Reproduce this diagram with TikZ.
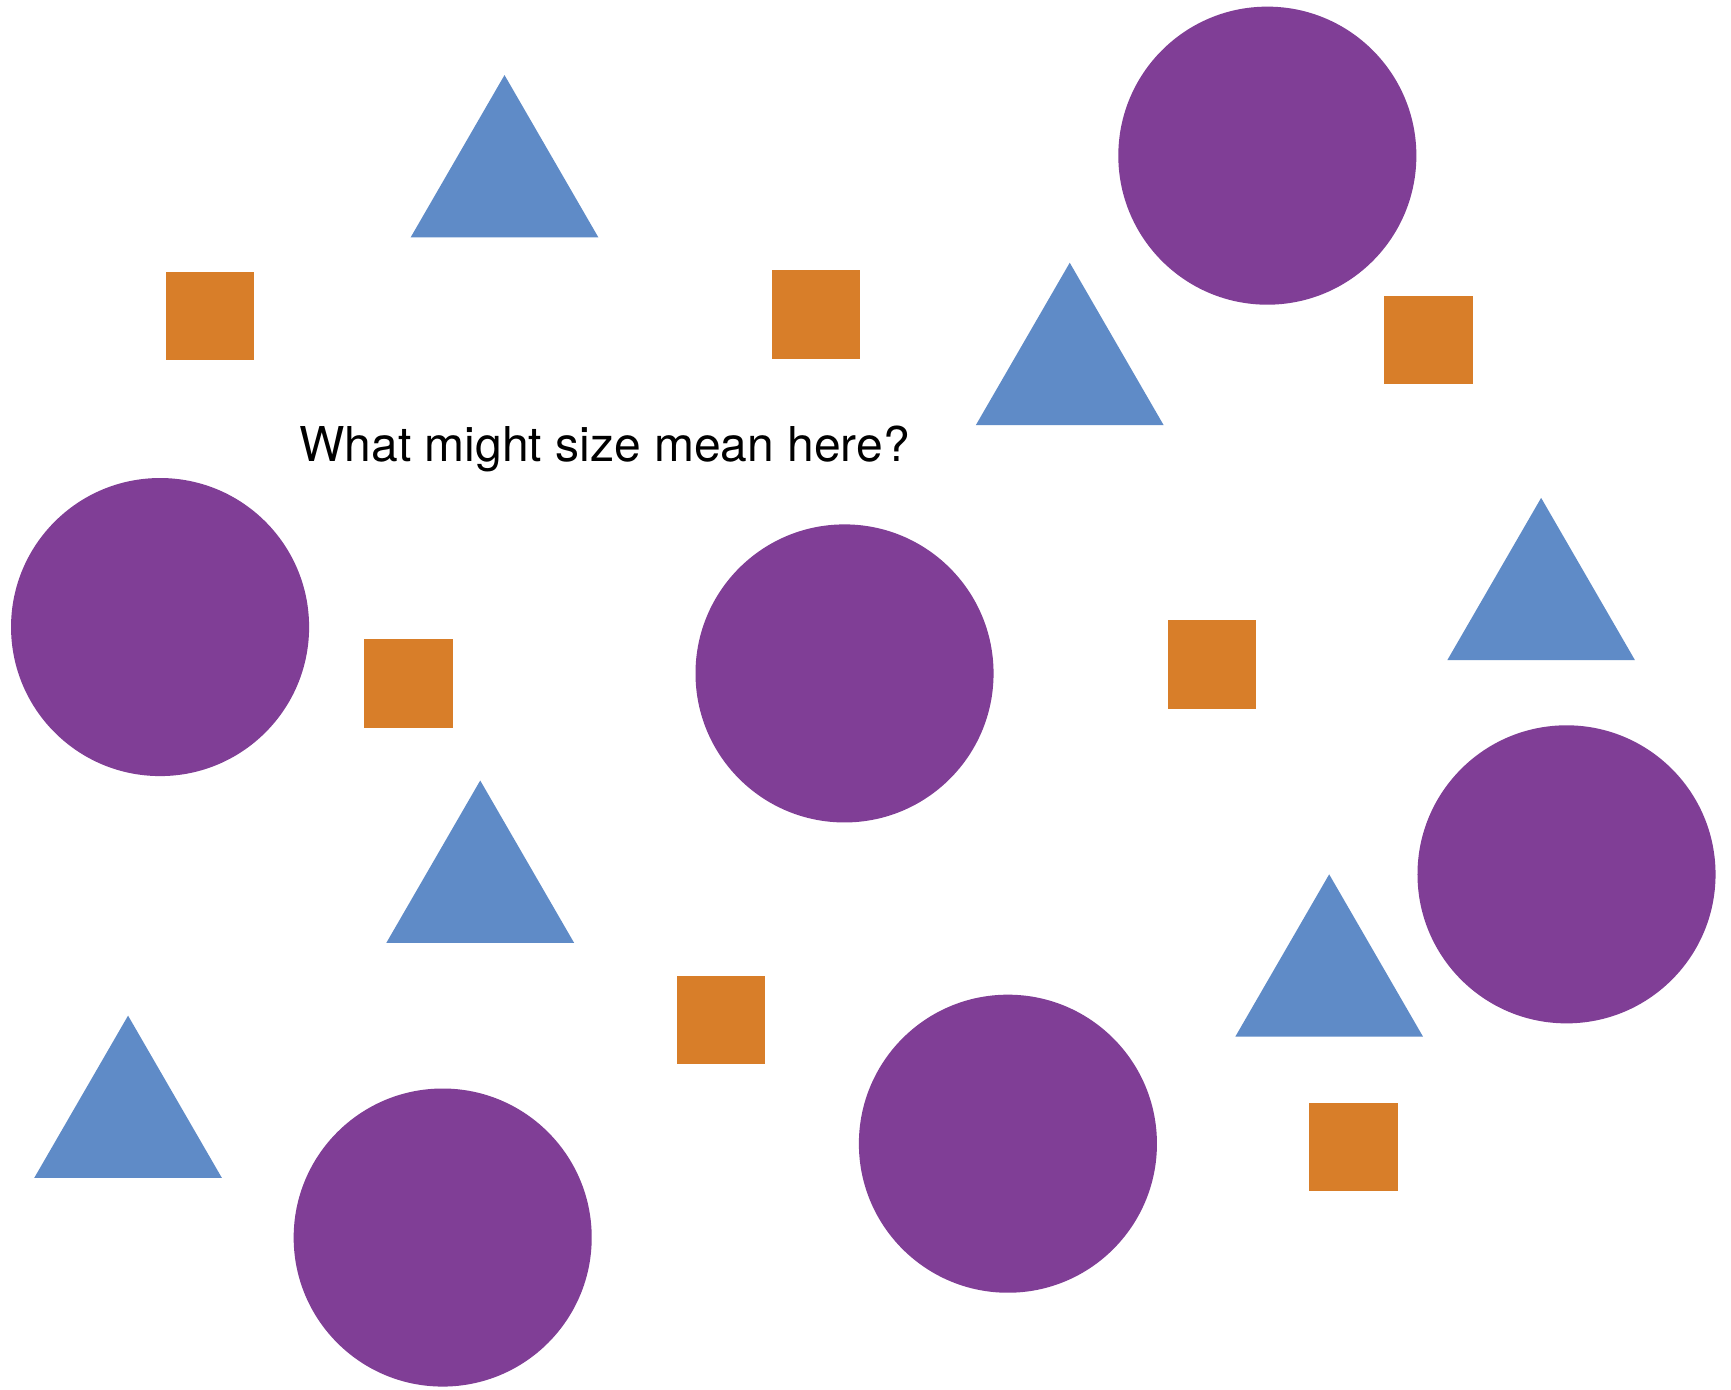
\documentclass[tikz,border=0pt]{standalone}
\usepackage{fontspec}
\setmainfont{TeX Gyre Heros}
\definecolor{dotpurple}{RGB}{128,62,150}
\definecolor{triblue}{RGB}{95,139,199}
\definecolor{sqorange}{RGB}{216,126,41}
\begin{document}
\begin{tikzpicture}[x=1.104pt,y=-1.104pt,
  disc/.style={fill=dotpurple},
  tri/.style={fill=triblue},
  sq/.style={fill=sqorange}]
\useasboundingbox[fill=white] (0,0) rectangle (1568,1259);
% circles
\foreach \cx/\cy in {1148/141, 145/568, 765/610, 1419/792, 913/1036, 401/1121}
  \fill[disc] (\cx,\cy) circle[radius=135];
% triangles (apex x, apex y)
\foreach \ax/\ay in {457/68, 969/238, 1396/451, 435/707, 1204/792, 116/920}
  \fill[tri] (\ax,\ay) -- ++(85,147) -- ++(-170,0) -- cycle;
% squares (left, top)
\foreach \sx/\sy in {150/246, 699/245, 1254/268, 330/579, 1058/562, 613/884, 1186/999}
  \fill[sq] (\sx,\sy) rectangle ++(80,80);
\node[anchor=base west, inner sep=0pt, font=\fontsize{48}{56}\selectfont] (q) at (271,418) {What might size mean here?};
\end{tikzpicture}
\end{document}
